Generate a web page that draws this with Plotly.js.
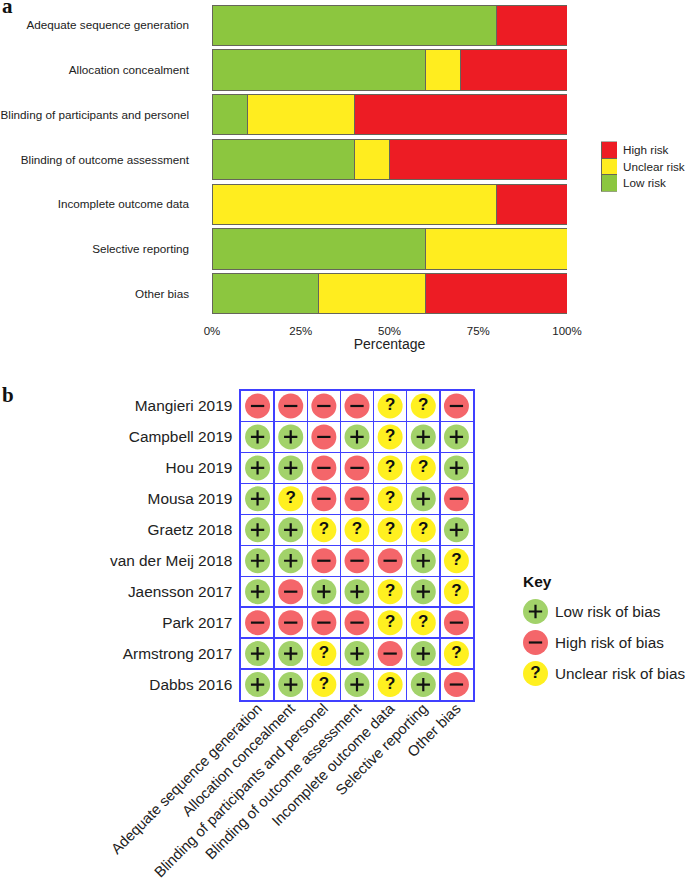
<!DOCTYPE html>
<html><head><meta charset="utf-8">
<script src="https://cdn.plot.ly/plotly-3.0.1.min.js"></script>
<style>html,body{margin:0;padding:0;background:#fff}</style></head>
<body><div id="chart" style="width:685px;height:884px"></div>
<script>
const domains = ["Adequate sequence generation","Allocation concealment","Blinding of participants and personel","Blinding of outcome assessment","Incomplete outcome data","Selective reporting","Other bias"];
const lowRisk     = [80,60,10,40,0,60,30];
const unclearRisk = [0,10,30,10,80,40,30];
const highRisk    = [20,30,60,50,20,0,40];
const percentTicks = [0,25,50,75,100];
const percentLabels = ["0%","25%","50%","75%","100%"];
const studies = ["Mangieri 2019","Campbell 2019","Hou 2019","Mousa 2019","Graetz 2018","van der Meij 2018","Jaensson 2017","Park 2017","Armstrong 2017","Dabbs 2016"];
const judgements = [
 ["-","-","-","-","?","?","-"],
 ["+","+","-","+","?","+","+"],
 ["+","+","-","-","?","?","+"],
 ["+","?","-","-","?","+","-"],
 ["+","+","?","?","?","?","+"],
 ["+","+","-","-","-","+","?"],
 ["+","-","+","+","?","+","?"],
 ["-","-","-","-","?","?","-"],
 ["+","+","?","+","-","+","?"],
 ["+","+","?","+","?","+","-"]
];
const barLegend = ["High risk","Unclear risk","Low risk"];
const keyLabels = ["Low risk of bias","High risk of bias","Unclear risk of bias"];
const keyCodes = ["+","-","?"];

const W=685,H=884;
const dx=(a,b)=>[a/W,b/W];
const dy=(a,b)=>[1-b/H,1-a/H];
const C={low:"#8CC63F",unc:"#FFED1F",high:"#ED1C24",edge:"#66665a",txt:"#222222",
  gl:"#A2D26A",gh:"#F4666A",gu:"#FFF020",grid:"#4040FF"};
const F="Liberation Sans, Arial, sans-serif";
const cfill={"+":C.gl,"-":C.gh,"?":C.gu};

function stack(name,vals,color){return {type:"bar",orientation:"h",name,x:vals,y:domains,
  marker:{color,line:{color:C.edge,width:1}},xaxis:"x",yaxis:"y",showlegend:false,hoverinfo:"x+y"};}
const data=[stack("Low risk",lowRisk,C.low),stack("Unclear risk",unclearRisk,C.unc),stack("High risk",highRisk,C.high)];

data.push({type:"bar",orientation:"h",x:barLegend.map(()=>1),y:barLegend,width:1,
  marker:{color:[C.high,C.unc,C.low],line:{color:C.edge,width:1}},xaxis:"x2",yaxis:"y2",showlegend:false,hoverinfo:"y"});

function glyphTraces(xs,ys,codes,xa,ya){
  const out=[];
  ["+","-","?"].forEach(code=>{
    const idx=codes.map((c,i)=>c===code?i:-1).filter(i=>i>=0);
    const X=idx.map(i=>xs[i]),Y=idx.map(i=>ys[i]);
    out.push({type:"scatter",mode:code==="?"?"markers+text":"markers",x:X,y:Y,xaxis:xa,yaxis:ya,
      marker:{size:25,color:cfill[code],line:{width:0}},
      text:code==="?"?X.map(()=>"<b>?</b>"):undefined,textposition:"middle center",
      textfont:{family:F,size:17,color:"#111"},showlegend:false,hoverinfo:"skip",cliponaxis:false});
    if(code!=="?") out.push({type:"scatter",mode:"markers",x:X,y:Y,xaxis:xa,yaxis:ya,
      marker:{symbol:code==="+"?"cross-thin":"line-ew",size:9.5,color:"#111",line:{color:"#111",width:2.2}},
      showlegend:false,hoverinfo:"skip",cliponaxis:false});
  });
  return out;
}
const mx=[],my=[],mc=[];
judgements.forEach((row,r)=>row.forEach((c,k)=>{mx.push(k);my.push(r);mc.push(c);}));
data.push(...glyphTraces(mx,my,mc,"x3","y3"));
data.push(...glyphTraces(keyCodes.map(()=>0),keyLabels.map((_,i)=>i),keyCodes,"x4","y4"));
// carrier trace for the axis that holds the slanted column labels
data.push({type:"scatter",mode:"markers",x:domains.map((_,i)=>i),y:domains.map(()=>0),xaxis:"x5",yaxis:"y3",
  marker:{size:1,opacity:0},showlegend:false,hoverinfo:"skip"});

const layout={width:W,height:H,margin:{l:0,r:0,t:0,b:0},paper_bgcolor:"#fff",plot_bgcolor:"#fff",
  barmode:"stack",bargap:0.1,showlegend:false,font:{family:F,color:C.txt},
  xaxis:{domain:dx(212,567),range:[0,100],tickmode:"array",tickvals:percentTicks,ticktext:percentLabels,showgrid:false,zeroline:false,showline:false,
    ticks:"",anchor:"y",tickfont:{size:11.5,color:C.txt},ticklabelstandoff:6,
    title:{text:"Percentage",font:{size:14,color:C.txt},standoff:2}},
  yaxis:{domain:dy(3,316),type:"category",categoryorder:"array",categoryarray:domains,autorange:"reversed",showgrid:false,zeroline:false,
    ticks:"",anchor:"x",tickfont:{size:11.7,color:C.txt},ticklabelstandoff:22},
  xaxis2:{domain:dx(601,617),range:[0,1],visible:false,anchor:"y2"},
  yaxis2:{domain:dy(141.5,191.5),type:"category",categoryorder:"array",categoryarray:barLegend,autorange:"reversed",side:"right",anchor:"x2",
    showgrid:false,zeroline:false,ticks:"",tickfont:{size:11.7,color:C.txt},ticklabelstandoff:5},
  xaxis3:{domain:dx(241,473),range:[-0.5,6.5],showticklabels:false,anchor:"y3",side:"bottom",
    showgrid:false,zeroline:false,showline:true,mirror:true,linecolor:C.grid,linewidth:1.6,ticks:"",
    minor:{tick0:0.5,dtick:1,showgrid:true,gridcolor:C.grid,gridwidth:1.4,ticks:""}},
  xaxis5:{domain:dx(241,473),range:[-0.5,6.5],overlaying:"x3",anchor:"free",position:1-696/H,side:"bottom",
    tickmode:"array",tickvals:domains.map((_,i)=>i),ticktext:domains,tickangle:-45,
    showgrid:false,zeroline:false,showline:false,ticks:"",tickfont:{size:14.8,color:C.txt},ticklabelstandoff:0},
  yaxis3:{domain:dy(390.5,700),range:[9.5,-0.5],tickmode:"array",tickvals:studies.map((_,i)=>i),ticktext:studies,anchor:"x3",
    showgrid:false,zeroline:false,showline:true,mirror:true,linecolor:C.grid,linewidth:1.6,ticks:"",
    minor:{tick0:0.5,dtick:1,showgrid:true,gridcolor:C.grid,gridwidth:1.4,ticks:""},tickfont:{size:15.4,color:C.txt},ticklabelstandoff:4},
  xaxis4:{domain:dx(523,548),range:[-0.5,0.5],visible:false,anchor:"y4"},
  yaxis4:{domain:dy(596,689),range:[2.5,-0.5],tickmode:"array",tickvals:keyLabels.map((_,i)=>i),ticktext:keyLabels,side:"right",anchor:"x4",
    showgrid:false,zeroline:false,showline:false,ticks:"",tickfont:{size:15.3,color:C.txt},ticklabelstandoff:6},
  annotations:[
    {xref:"paper",yref:"paper",x:0,y:1-6/H,xanchor:"left",yanchor:"middle",showarrow:false,text:"<b>a</b>",font:{family:"Liberation Serif, serif",size:21,color:"#111"}},
    {xref:"paper",yref:"paper",x:0,y:1-395/H,xanchor:"left",yanchor:"middle",showarrow:false,text:"<b>b</b>",font:{family:"Liberation Serif, serif",size:21,color:"#111"}},
    {xref:"paper",yref:"paper",x:521/W,y:1-581/H,xanchor:"left",yanchor:"middle",showarrow:false,text:"<b>Key</b>",font:{family:F,size:15.5,color:"#111"}}
  ]};
Plotly.newPlot("chart",data,layout,{staticPlot:true,displayModeBar:false});
</script></body></html>
